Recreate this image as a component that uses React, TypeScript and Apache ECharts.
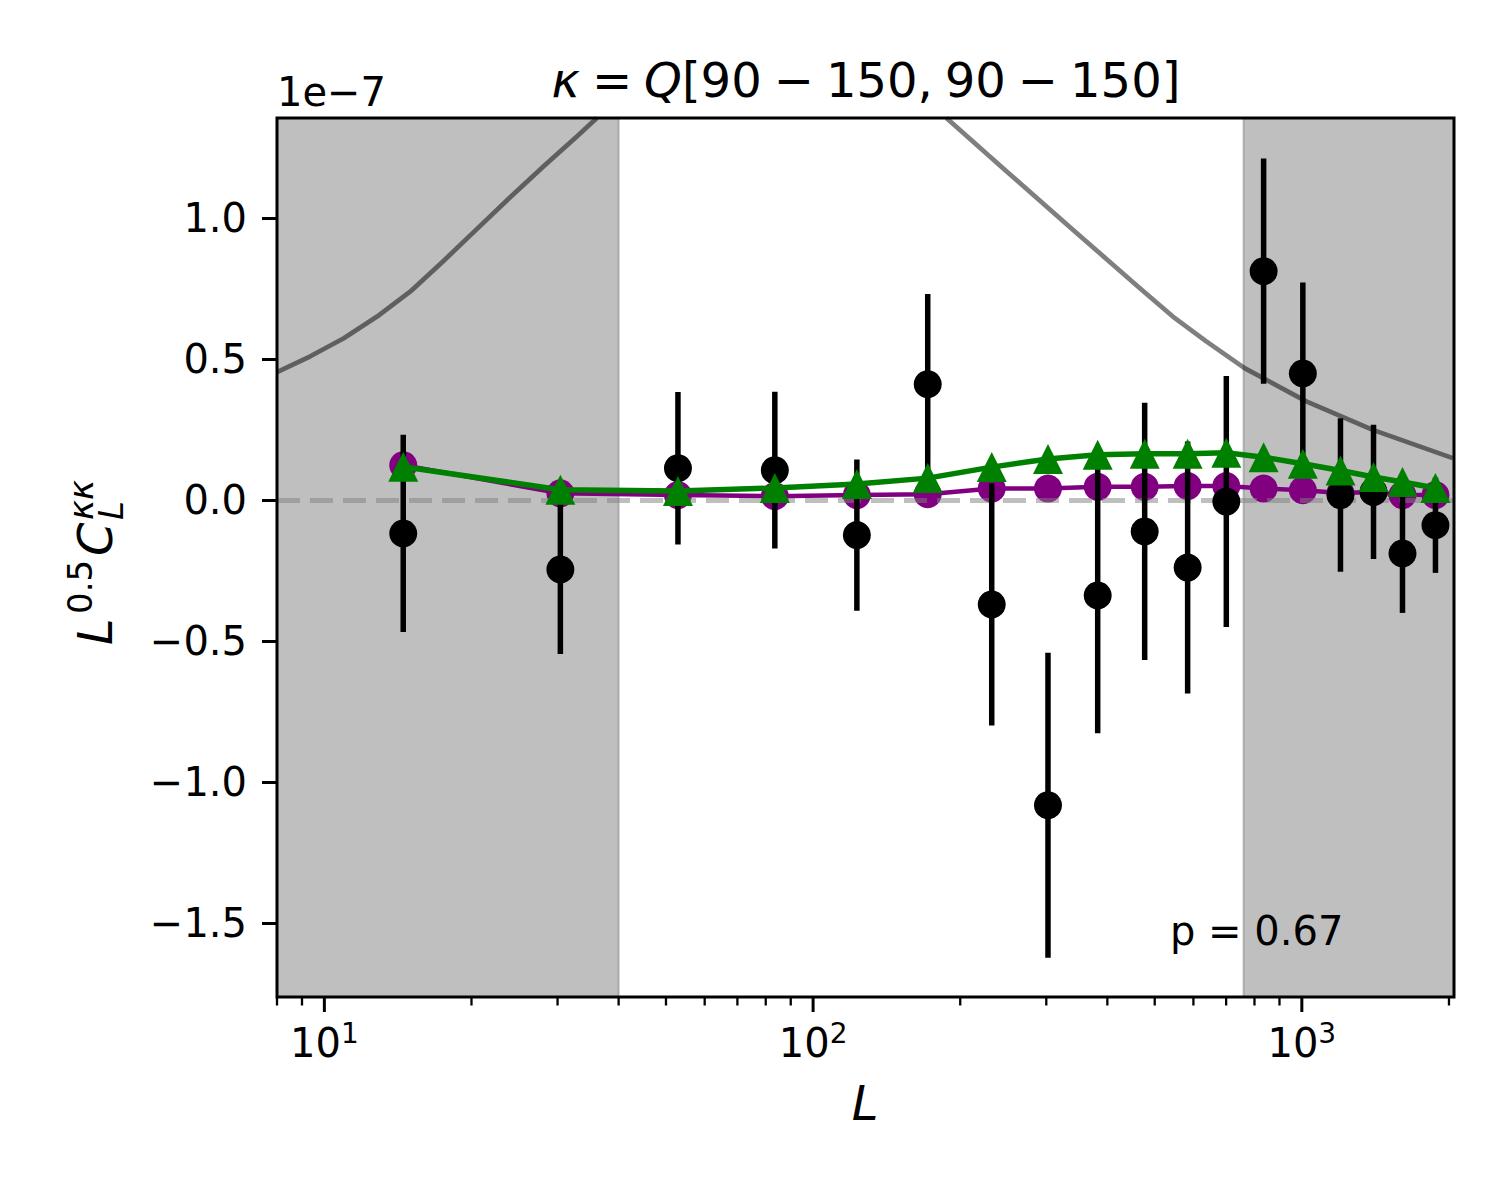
import React, { useEffect, useRef } from 'react';
import * as echarts from 'echarts';

// ---- data (values in units of 1e-7) ----
const L_BINS = [14.5, 30.4, 52.9, 83.5, 122.9, 171.6, 232, 302.4, 382.2, 476.9, 583.9, 700.6, 835.2, 1004.7, 1199.6, 1401.7, 1606.7, 1876.7];
const DATA_VALS = [-0.118, -0.246, 0.113, 0.106, -0.124, 0.411, -0.37, -1.082, -0.338, -0.111, -0.239, -0.005, 0.812, 0.449, 0.018, 0.029, -0.189, -0.089];
const DATA_ERR = [0.35, 0.3, 0.27, 0.278, 0.268, 0.32, 0.429, 0.541, 0.489, 0.456, 0.447, 0.445, 0.399, 0.323, 0.272, 0.238, 0.211, 0.169];
const PURPLE_VALS = [0.124, 0.024, 0.018, 0.014, 0.018, 0.021, 0.041, 0.041, 0.047, 0.047, 0.05, 0.05, 0.041, 0.035, 0.025, 0.029, 0.018, 0.018];
const GREEN_VALS = [0.118, 0.037, 0.032, 0.043, 0.057, 0.078, 0.117, 0.146, 0.161, 0.164, 0.164, 0.168, 0.152, 0.129, 0.105, 0.082, 0.064, 0.043];

const GRAY_LEFT_L = [8.0, 9.36, 10.96, 12.82, 15.0, 17.55, 20.53, 24.0, 28.1, 32.9, 36.1];
const GRAY_LEFT_V = [0.454, 0.51, 0.574, 0.651, 0.74, 0.849, 0.962, 1.074, 1.184, 1.29, 1.355];
const GRAY_RIGHT_L = [187.4, 248.6, 340, 465.6, 544.6, 637.5, 763.5, 1021, 1397, 2036];
const GRAY_RIGHT_V = [1.355, 1.166, 0.959, 0.752, 0.651, 0.563, 0.468, 0.35, 0.249, 0.149];

const SHADE_RANGES = [[8, 40], [760, 2048]];

const X_MIN = 8;
const X_MAX = 2048;
const Y_MIN = -1.762;
const Y_MAX = 1.355;
const MAJOR_X = [10, 100, 1000];
const MINOR_X = [8, 9, 20, 30, 40, 50, 60, 70, 80, 90, 200, 300, 400, 500, 600, 700, 800, 900, 2000];
const Y_TICKS = [-1.5, -1.0, -0.5, 0.0, 0.5, 1.0];

const SP = '\u2005';
const TITLE_TEXT = `{i|κ}${SP}=${SP}{i|Q}[90${SP}−${SP}150,${SP}90${SP}−${SP}150]`;
const OFFSET_TEXT = '1e−7';
const P_TEXT = 'p = 0.67';

const FONT = 'DejaVu Sans';
const TICK_FS = 40;

export default function App() {
  const ref = useRef<HTMLDivElement>(null);

  useEffect(() => {
    if (!ref.current) return;
    const chart = echarts.init(ref.current, null, { renderer: 'svg' });

    const tickData = [
      ...MAJOR_X.map((v) => [v, Y_MIN, 1]),
      ...MINOR_X.map((v) => [v, Y_MIN, 0]),
    ];

    const zip = (xs: number[], ys: number[]) => xs.map((x, i) => [x, ys[i]]);

    const grayLine = {
      color: 'rgba(0,0,0,0.5)',
      width: 4.7,
      join: 'round',
    };

    const option: any = {
      animation: false,
      grid: { left: 277, top: 118, width: 1177, height: 879, containLabel: false },
      xAxis: {
        type: 'log',
        logBase: 10,
        min: X_MIN,
        max: X_MAX,
        axisLine: { show: false },
        axisTick: { show: false },
        axisLabel: { show: false },
        splitLine: { show: false },
      },
      yAxis: {
        type: 'value',
        min: Y_MIN,
        max: Y_MAX,
        axisLine: { show: false },
        splitLine: { show: false },
        axisTick: {
          show: true,
          customValues: Y_TICKS,
          length: 15,
          lineStyle: { color: '#000', width: 3 },
        },
        axisLabel: {
          customValues: Y_TICKS,
          formatter: (v: number) => (v < 0 ? '\u2212' : '') + Math.abs(v).toFixed(1),
          fontSize: TICK_FS,
          fontFamily: FONT,
          color: '#000',
          margin: 30,
        },
      },
      series: [
        {
          name: 'grayLeft',
          type: 'line',
          z: 2,
          data: zip(GRAY_LEFT_L, GRAY_LEFT_V),
          symbol: 'none',
          smooth: false,
          lineStyle: grayLine,
          markArea: {
            silent: true,
            z: 1,
            itemStyle: {
              color: 'rgba(128,128,128,0.5)',
              borderColor: 'rgba(128,128,128,0.5)',
              borderWidth: 2,
            },
            data: SHADE_RANGES.map(([a, b]) => [{ xAxis: a }, { xAxis: b }]),
          },
        },
        {
          name: 'grayRight',
          type: 'line',
          z: 2,
          data: zip(GRAY_RIGHT_L, GRAY_RIGHT_V),
          symbol: 'none',
          smooth: false,
          lineStyle: grayLine,
        },
        {
          name: 'purple',
          type: 'line',
          z: 3,
          data: zip(L_BINS, PURPLE_VALS),
          symbol: 'circle',
          symbolSize: 28,
          showAllSymbol: true,
          lineStyle: { color: '#800080', width: 4.5 },
          itemStyle: { color: '#800080', borderWidth: 0, opacity: 1 },
          markLine: {
            silent: true,
            z: 4,
            symbol: 'none',
            label: { show: false },
            lineStyle: { type: [23, 10], color: 'rgba(128,128,128,0.5)', width: 5 },
            data: [{ yAxis: 0 }],
          },
        },
        {
          name: 'errbars',
          type: 'custom',
          z: 6,
          data: L_BINS.map((l, i) => [l, DATA_VALS[i], DATA_ERR[i]]),
          encode: { x: 0, y: 1 },
          renderItem: (params: any, api: any) => {
            const x = api.value(0);
            const y = api.value(1);
            const e = api.value(2);
            const p1 = api.coord([x, y - e]);
            const p2 = api.coord([x, y + e]);
            return {
              type: 'line',
              shape: { x1: p1[0], y1: p1[1], x2: p2[0], y2: p2[1] },
              style: { stroke: '#000', lineWidth: 5.5 },
            };
          },
        },
        {
          name: 'data',
          type: 'scatter',
          z: 6,
          data: zip(L_BINS, DATA_VALS),
          symbol: 'circle',
          symbolSize: 28,
          itemStyle: { color: '#000', opacity: 1 },
        },
        {
          name: 'green',
          type: 'line',
          z: 7,
          data: zip(L_BINS, GREEN_VALS),
          symbol: 'triangle',
          symbolSize: 30,
          showAllSymbol: true,
          lineStyle: { color: '#008000', width: 5.5 },
          itemStyle: { color: '#008000', borderWidth: 0, opacity: 1 },
        },
        {
          name: 'xticks',
          type: 'custom',
          z: 20,
          clip: false,
          silent: true,
          data: tickData,
          encode: { x: 0, y: 1 },
          renderItem: (params: any, api: any) => {
            const v = api.value(0);
            const major = api.value(2) === 1;
            const p = api.coord([v, Y_MIN]);
            const len = major ? 15 : 8.5;
            const children: any[] = [
              {
                type: 'line',
                shape: { x1: p[0], y1: p[1], x2: p[0], y2: p[1] + len },
                style: { stroke: '#000', lineWidth: major ? 3 : 2.3 },
              },
            ];
            if (major) {
              const exp = Math.round(Math.log10(v));
              children.push({
                type: 'text',
                x: p[0],
                y: p[1] + 22,
                style: {
                  text: `{b|10}{s|${exp}}`,
                  align: 'center',
                  verticalAlign: 'top',
                  fill: '#000',
                  fontFamily: FONT,
                  fontSize: TICK_FS,
                  rich: {
                    b: { fontSize: TICK_FS, fontFamily: FONT, fill: '#000', verticalAlign: 'bottom' },
                    s: { fontSize: 28, fontFamily: FONT, fill: '#000', verticalAlign: 'bottom', padding: [0, 0, 16, 0] },
                  },
                },
              });
            }
            return { type: 'group', children };
          },
        },
      ],
      graphic: [
        {
          type: 'rect',
          z: 100,
          silent: true,
          shape: { x: 277, y: 118, width: 1177, height: 879 },
          style: { fill: 'none', stroke: '#000', lineWidth: 3 },
        },
        {
          type: 'text',
          z: 100,
          x: 866,
          y: 80,
          style: {
            text: TITLE_TEXT,
            fontSize: 48,
            fontFamily: FONT,
            fill: '#000',
            align: 'center',
            verticalAlign: 'middle',
            rich: {
              i: { fontSize: 48, fontFamily: FONT, fontStyle: 'italic', fill: '#000' },
            },
          },
        },
        {
          type: 'text',
          z: 100,
          x: 277,
          y: 92,
          style: { text: OFFSET_TEXT, fontSize: TICK_FS, fontFamily: FONT, fill: '#000', align: 'left', verticalAlign: 'middle' },
        },
        {
          type: 'text',
          z: 100,
          x: 1170,
          y: 931,
          style: { text: P_TEXT, fontSize: TICK_FS, fontFamily: FONT, fill: '#000', align: 'left', verticalAlign: 'middle' },
        },
        {
          type: 'text',
          z: 100,
          x: 865,
          y: 1103,
          style: { text: 'L', fontSize: 48, fontFamily: FONT, fontStyle: 'italic', fill: '#000', align: 'center', verticalAlign: 'middle' },
        },
        // y-axis label pieces: L^{0.5} C_L^{κκ}, rotated
        {
          type: 'text', z: 100, x: 95, y: 645, rotation: Math.PI / 2,
          style: { text: 'L', fontSize: 48, fontFamily: FONT, fontStyle: 'italic', fill: '#000', align: 'left', verticalAlign: 'middle' },
        },
        {
          type: 'text', z: 100, x: 80, y: 614, rotation: Math.PI / 2,
          style: { text: '0.5', fontSize: 34, fontFamily: FONT, fill: '#000', align: 'left', verticalAlign: 'middle' },
        },
        {
          type: 'text', z: 100, x: 95, y: 556, rotation: Math.PI / 2,
          style: { text: 'C', fontSize: 48, fontFamily: FONT, fontStyle: 'italic', fill: '#000', align: 'left', verticalAlign: 'middle' },
        },
        {
          type: 'text', z: 100, x: 81, y: 520, rotation: Math.PI / 2,
          style: { text: 'κκ', fontSize: 34, fontFamily: FONT, fontStyle: 'italic', fill: '#000', align: 'left', verticalAlign: 'middle' },
        },
        {
          type: 'text', z: 100, x: 111, y: 520, rotation: Math.PI / 2,
          style: { text: 'L', fontSize: 34, fontFamily: FONT, fontStyle: 'italic', fill: '#000', align: 'left', verticalAlign: 'middle' },
        },
      ],
    };

    chart.setOption(option);
    return () => {
      chart.dispose();
    };
  }, []);

  return (
    <div
      ref={ref}
      style={{ position: 'absolute', left: 0, top: 0, width: 1500, height: 1200, background: '#fff' }}
    />
  );
}
